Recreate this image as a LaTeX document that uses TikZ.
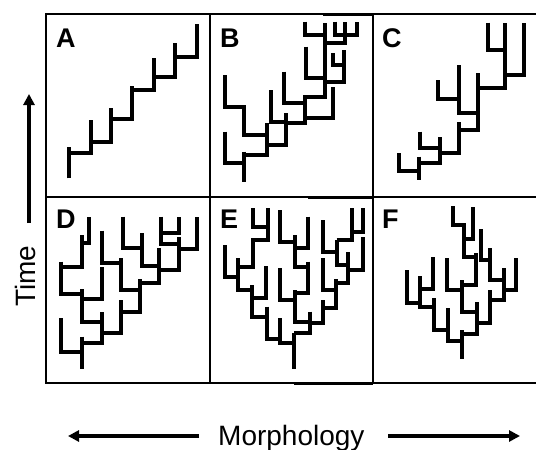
\documentclass[tikz,border=0pt]{standalone}
\usepackage{fontspec}
\setmainfont{Liberation Sans}
\usetikzlibrary{arrows.meta}
\begin{document}
\begin{tikzpicture}[x=1pt,y=-1pt,
  lin/.style={line width=4pt, line join=miter, line cap=butt},
  grid/.style={line width=1.4pt},
  gridthick/.style={line width=2.4pt},
  axis/.style={line width=3.2pt, -{Triangle[length=11pt,width=11pt]}},
  lab/.style={anchor=base west, inner sep=0pt, font=\bfseries\fontsize{27}{27}\selectfont},
  axlab/.style={inner sep=0pt, font=\fontsize{28}{28}\selectfont}]
\useasboundingbox (0,0) rectangle (536,450);

% frame of the six panels
\draw[grid] (536,14) -- (46,14) -- (46,383) -- (536,383);
\draw[grid] (46,197) -- (536,197);
\draw[grid] (210,14) -- (210,383);
\draw[grid] (373,14) -- (373,383);
\draw[gridthick] (323,14.3) -- (373,14.3);
\draw[gridthick] (308,197.3) -- (373,197.3);
\draw[gridthick] (294,383.3) -- (373,383.3);

% panel labels
\node[lab] (la) at (56,47) {A};
\node[lab] (lb) at (220,47) {B};
\node[lab] (lc) at (382,47) {C};
\node[lab] (ld) at (56,228) {D};
\node[lab] (le) at (220,228) {E};
\node[lab] (lf) at (382,228) {F};

% A: a single lineage climbing step by step
\begin{scope}[shift={(40,0)},scale=1/3]
\draw[lin] (87,535) -- (87,440);
\draw[lin] (87,458) -- (152,458) -- (152,360);
\draw[lin] (152,425) -- (212,425) -- (212,325);
\draw[lin] (212,357) -- (277,357) -- (277,258);
\draw[lin] (277,270) -- (342,270) -- (342,173);
\draw[lin] (342,230) -- (405,230) -- (405,130);
\draw[lin] (405,172) -- (472,172) -- (472,73);
\end{scope}

% B
\begin{scope}[shift={(200,0)},scale=1/3]
\draw[lin] (133,455) -- (133,545);
\draw[lin] (75,395) -- (75,490) -- (133,490);
\draw[lin] (133,465) -- (200,465) -- (200,370);
\draw[lin] (75,225) -- (75,320) -- (133,320) -- (133,405) -- (200,405);
\draw[lin] (200,435) -- (258,435) -- (258,340);
\draw[lin] (212,270) -- (212,365) -- (258,365);
\draw[lin] (258,370) -- (315,370) -- (315,285);
\draw[lin] (252,215) -- (252,310) -- (315,310);
\draw[lin] (315,355) -- (398,355) -- (398,262);
\draw[lin] (315,290) -- (375,290) -- (375,70);
\draw[lin] (318,140) -- (318,235) -- (375,235);
\draw[lin] (375,245) -- (432,245) -- (432,150);
\draw[lin] (398,160) -- (398,195) -- (432,195);
\draw[lin] (315,65) -- (315,105) -- (375,105);
\draw[lin] (375,130) -- (435,130) -- (435,65);
\draw[lin] (405,65) -- (405,105) -- (470,105) -- (470,65);
\end{scope}

% C
\begin{scope}[shift={(360,0)},scale=1/3]
\draw[lin] (178,470) -- (178,540);
\draw[lin] (118,460) -- (118,512) -- (178,512);
\draw[lin] (178,490) -- (240,490) -- (240,410);
\draw[lin] (180,395) -- (180,445) -- (240,445);
\draw[lin] (240,458) -- (298,458) -- (298,365);
\draw[lin] (298,390) -- (355,390) -- (355,218);
\draw[lin] (298,195) -- (298,340) -- (355,340);
\draw[lin] (235,240) -- (235,297) -- (298,297);
\draw[lin] (355,265) -- (435,265) -- (435,68);
\draw[lin] (385,68) -- (385,150) -- (435,150);
\draw[lin] (435,225) -- (493,225) -- (493,68);
\end{scope}

% D
\begin{scope}[shift={(40,190)},scale=1/3]
\draw[lin] (125,440) -- (125,538);
\draw[lin] (62,385) -- (62,485) -- (125,485);
\draw[lin] (125,460) -- (185,460) -- (185,365);
\draw[lin] (125,298) -- (125,395) -- (185,395);
\draw[lin] (125,328) -- (185,328) -- (185,232);
\draw[lin] (62,215) -- (62,312) -- (125,312);
\draw[lin] (62,230) -- (125,230) -- (125,135);
\draw[lin] (125,158) -- (148,158) -- (148,80);
\draw[lin] (185,428) -- (242,428) -- (242,330);
\draw[lin] (242,365) -- (300,365) -- (300,268);
\draw[lin] (185,122) -- (185,218) -- (242,218);
\draw[lin] (242,205) -- (242,300) -- (300,300);
\draw[lin] (300,280) -- (358,280) -- (358,175);
\draw[lin] (248,80) -- (248,175) -- (305,175);
\draw[lin] (305,130) -- (305,228) -- (358,228);
\draw[lin] (358,240) -- (418,240) -- (418,140);
\draw[lin] (418,178) -- (472,178) -- (472,80);
\draw[lin] (362,80) -- (362,162) -- (418,162);
\draw[lin] (362,130) -- (418,130) -- (418,80);
\end{scope}

% E
\begin{scope}[shift={(200,190)},scale=1/3]
\draw[lin] (283,428) -- (283,538);
\draw[lin] (240,385) -- (240,458) -- (283,458);
\draw[lin] (200,350) -- (200,448) -- (240,448);
\draw[lin] (155,285) -- (155,382) -- (200,382);
\draw[lin] (115,205) -- (115,300) -- (155,300);
\draw[lin] (75,165) -- (75,262) -- (115,262);
\draw[lin] (155,325) -- (198,325) -- (198,228);
\draw[lin] (115,230) -- (160,230) -- (160,150) -- (205,150) -- (205,55);
\draw[lin] (160,55) -- (160,110) -- (205,110);
\draw[lin] (240,60) -- (240,155) -- (285,155);
\draw[lin] (325,80) -- (325,175) -- (285,175);
\draw[lin] (285,135) -- (285,230) -- (325,230);
\draw[lin] (325,215) -- (325,310) -- (285,310);
\draw[lin] (285,300) -- (285,395) -- (330,395);
\draw[lin] (240,235) -- (240,330) -- (285,330);
\draw[lin] (330,365) -- (330,430) -- (283,430);
\draw[lin] (330,400) -- (368,400) -- (368,330);
\draw[lin] (368,355) -- (408,355) -- (408,268);
\draw[lin] (368,205) -- (368,300) -- (408,300);
\draw[lin] (408,280) -- (445,280) -- (445,185);
\draw[lin] (445,240) -- (490,240) -- (490,140);
\draw[lin] (410,150) -- (410,225) -- (445,225);
\draw[lin] (370,90) -- (370,185) -- (410,185);
\draw[lin] (410,150) -- (455,150) -- (455,55);
\draw[lin] (455,125) -- (490,125) -- (490,55);
\end{scope}

% F
\begin{scope}[shift={(360,190)},scale=1/3]
\draw[lin] (305,420) -- (305,508);
\draw[lin] (265,355) -- (265,452) -- (305,452);
\draw[lin] (305,432) -- (350,432) -- (350,335);
\draw[lin] (222,325) -- (222,420) -- (265,420);
\draw[lin] (350,400) -- (390,400) -- (390,300);
\draw[lin] (390,330) -- (432,330) -- (432,235);
\draw[lin] (432,300) -- (468,300) -- (468,205);
\draw[lin] (180,258) -- (180,350) -- (222,350);
\draw[lin] (140,240) -- (140,340) -- (180,340);
\draw[lin] (180,298) -- (220,298) -- (220,200);
\draw[lin] (305,270) -- (305,365) -- (350,365);
\draw[lin] (262,205) -- (262,300) -- (310,300);
\draw[lin] (310,285) -- (348,285) -- (348,188);
\draw[lin] (312,100) -- (312,200) -- (348,200);
\draw[lin] (278,48) -- (278,105) -- (312,105);
\draw[lin] (340,52) -- (340,148) -- (312,148);
\draw[lin] (362,118) -- (362,210) -- (390,210);
\draw[lin] (390,175) -- (390,270) -- (432,270);
\end{scope}

% axes
\coordinate (t0) at (29,223);
\coordinate (t1) at (29,94);
\draw[axis] (t0) -- (t1);
\node[axlab, rotate=90, anchor=base west] (time) at (35,307) {Time};

\coordinate (ml0) at (199,436);
\coordinate (ml1) at (68,436);
\coordinate (mr0) at (388,436);
\coordinate (mr1) at (520,436);
\draw[axis] (ml0) -- (ml1);
\draw[axis] (mr0) -- (mr1);
\node[axlab, anchor=base west] (morph) at (218,445) {Morphology};
\end{tikzpicture}
\end{document}
